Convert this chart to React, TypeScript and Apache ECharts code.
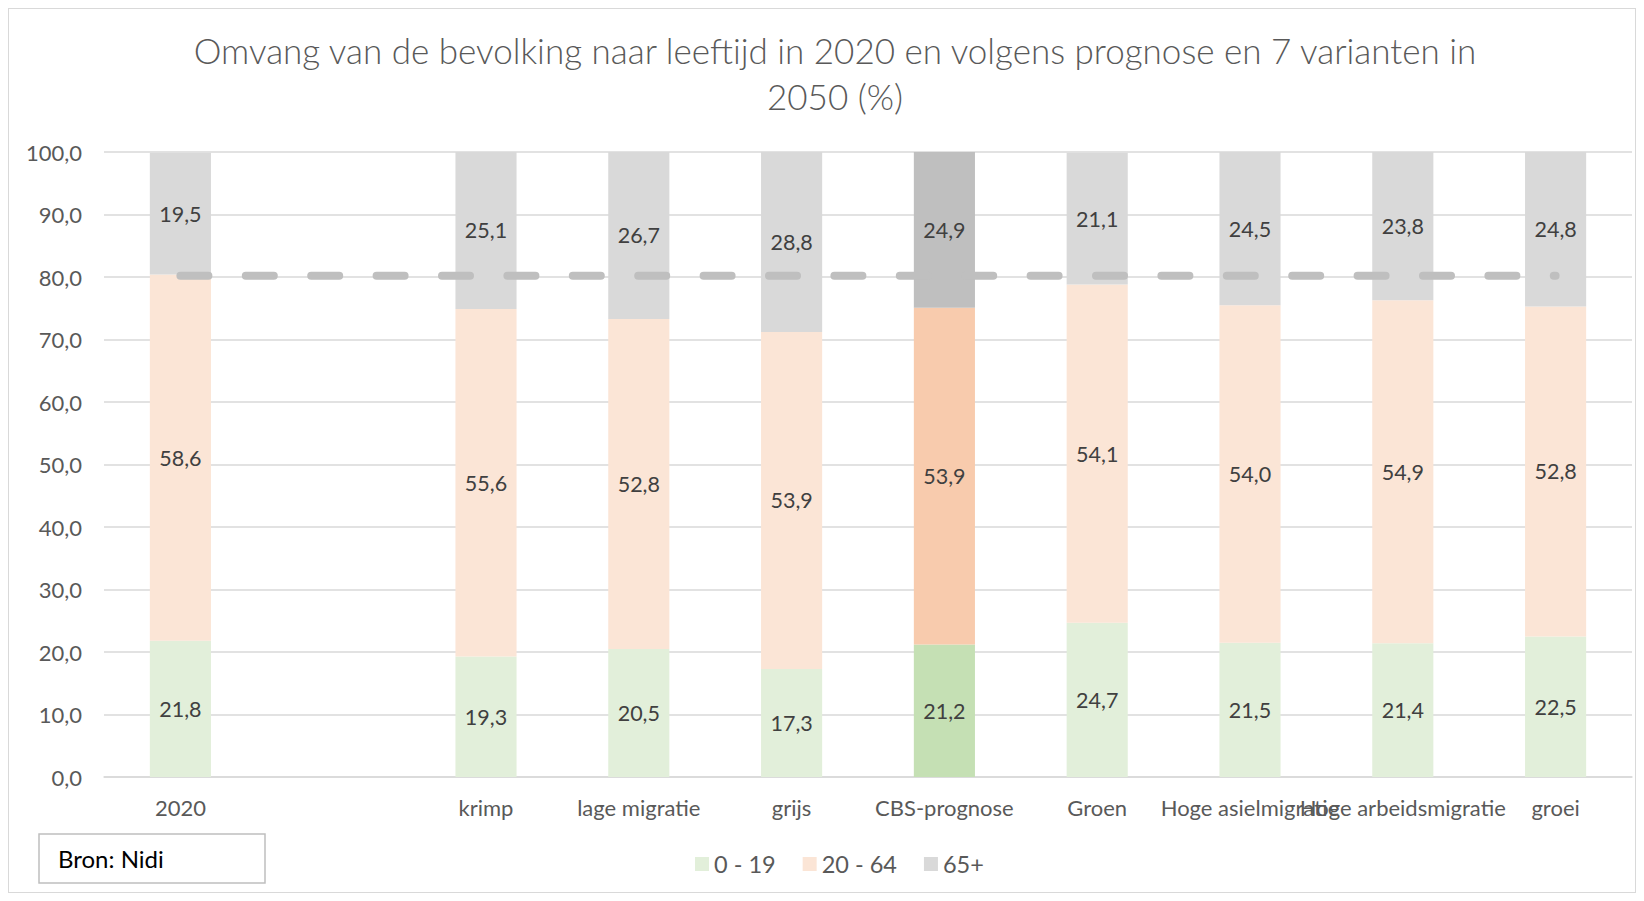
import React, { useEffect, useRef } from "react";
import * as echarts from "echarts";

const categories = [
  "2020",
  "",
  "krimp",
  "lage migratie",
  "grijs",
  "CBS-prognose",
  "Groen",
  "Hoge asielmigratie",
  "Hoge arbeidsmigratie",
  "groei",
];
const age0to19 = [21.8, null, 19.3, 20.5, 17.3, 21.2, 24.7, 21.5, 21.4, 22.5];
const age20to64 = [58.6, null, 55.6, 52.8, 53.9, 53.9, 54.1, 54.0, 54.9, 52.8];
const age65plus = [19.5, null, 25.1, 26.7, 28.8, 24.9, 21.1, 24.5, 23.8, 24.8];
const referenceLine = [80.2, 80.2, 80.2, 80.2, 80.2, 80.2, 80.2, 80.2, 80.2, 80.2];
const yTicks = { min: 0, max: 100, interval: 10 };
const highlightIndex = 5;

const FONT = "Lato, 'Open Sans', sans-serif";
const fmt = (v: number) => v.toFixed(1).replace(".", ",");

function buildData(values: (number | null)[], hi: string) {
  return values.map((v, i) =>
    i === highlightIndex ? { value: v, itemStyle: { color: hi } } : v
  );
}

export default function App() {
  const ref = useRef<HTMLDivElement>(null);
  useEffect(() => {
    if (!ref.current) return;
    const chart = echarts.init(ref.current, undefined, { renderer: "svg" });
    const label = {
      show: true,
      position: "inside" as const,
      color: "#404040",
      fontSize: 21.5,
      fontFamily: FONT,
      formatter: (p: any) => (p.value == null ? "" : fmt(Number(p.value))),
    };
    chart.setOption({
      animation: false,
      backgroundColor: "#ffffff",
      title: {
        text:
          "Omvang van de bevolking naar leeftijd in 2020 en volgens prognose en 7 varianten in\n2050 (%)",
        left: 821,
        top: 13,
        textAlign: "center",
        textStyle: {
          color: "#595959",
          fontSize: 35,
          fontWeight: 300,
          fontFamily: FONT,
          lineHeight: 46,
        },
      },
      grid: { left: 95, right: 3, top: 143, bottom: 115, containLabel: false },
      legend: {
        left: 681,
        top: 838,
        itemWidth: 14,
        itemHeight: 14,
        itemGap: 27,
        icon: "rect",
        textStyle: { color: "#595959", fontSize: 23.5, fontFamily: FONT },
        data: ["0 - 19", "20 - 64", "65+"],
      },
      xAxis: {
        type: "category",
        data: categories,
        axisTick: { show: false },
        axisLine: { lineStyle: { color: "#D9D9D9", width: 1.5 } },
        axisLabel: {
          interval: 0,
          color: "#595959",
          fontSize: 22,
          fontFamily: FONT,
          margin: 19,
        },
      },
      yAxis: {
        type: "value",
        min: yTicks.min,
        max: yTicks.max,
        interval: yTicks.interval,
        axisLine: { show: false },
        axisTick: { show: false },
        splitLine: { lineStyle: { color: "#D9D9D9", width: 1.5 } },
        axisLabel: {
          color: "#595959",
          fontSize: 22,
          fontFamily: FONT,
          margin: 22,
          formatter: (v: number) => fmt(v),
        },
      },
      series: [
        {
          name: "0 - 19",
          type: "bar",
          stack: "total",
          barCategoryGap: "60%",
          itemStyle: { color: "#E2EFDA" },
          label,
          data: buildData(age0to19, "#C5E0B4"),
        },
        {
          name: "20 - 64",
          type: "bar",
          stack: "total",
          barCategoryGap: "60%",
          itemStyle: { color: "#FBE5D6" },
          label,
          data: buildData(age20to64, "#F8CBAD"),
        },
        {
          name: "65+",
          type: "bar",
          stack: "total",
          barCategoryGap: "60%",
          itemStyle: { color: "#D9D9D9" },
          label,
          data: buildData(age65plus, "#BFBFBF"),
        },
        {
          name: "ref",
          type: "line",
          data: referenceLine,
          symbol: "none",
          silent: true,
          z: 5,
          lineStyle: {
            color: "#BFBFBF",
            width: 8,
            type: [28, 37.4],
            cap: "round",
          },
        },
      ],
      graphic: [
        {
          type: "rect",
          shape: { x: 30, y: 825, width: 226, height: 49 },
          style: { fill: "#ffffff", stroke: "#BFBFBF", lineWidth: 1.5 },
        },
        {
          type: "text",
          x: 49,
          y: 849,
          style: {
            text: "Bron: Nidi",
            fill: "#000000",
            fontSize: 24,
            fontFamily: FONT,
            verticalAlign: "middle",
          },
        },
      ],
    });
    return () => chart.dispose();
  }, []);
  return (
    <div
      style={{
        width: 1628,
        height: 885,
        border: "1px solid #D9D9D9",
        boxSizing: "border-box",
        background: "#fff",
      }}
    >
      <div ref={ref} style={{ width: 1626, height: 883 }} />
    </div>
  );
}
